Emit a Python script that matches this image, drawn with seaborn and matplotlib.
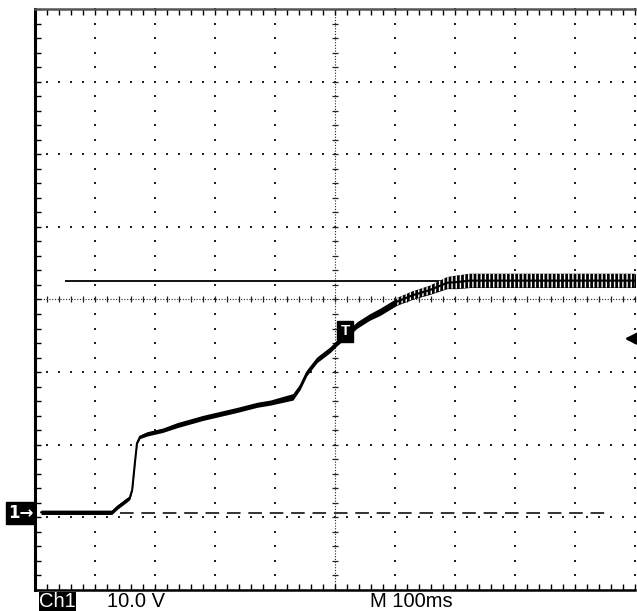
import numpy as np
import pandas as pd
import matplotlib
matplotlib.use("Agg")
import matplotlib.pyplot as plt
import matplotlib.transforms as mtransforms
from matplotlib.patches import Rectangle
import seaborn as sns

# ---- data (time in ms relative to trigger, volts) ----
time_ms = [-490, -440, -400, -372, -363, -347, -342, -338, -333, -330, -325, -313,
           -287, -263, -220, -163, -130, -108, -70, -58, -47, -30, -8, 3, 37, 58,
           75, 103, 130, 158, 187, 203, 225, 300, 400, 503]
volts = [0.1, 0.1, 0.1, 0.1, 0.8, 1.8, 2.1, 3.2, 7.3, 9.6, 10.5, 10.9,
         11.4, 12.1, 13.1, 14.2, 14.9, 15.2, 16.0, 17.4, 19.3, 21.1, 22.5, 23.4, 25.9, 27.0,
         27.7, 29.1, 30.0, 30.7, 31.7, 31.8, 32.0, 32.0, 32.0, 32.0]
noise_v = [0.3, 0.3, 0.3, 0.3, 0.3, 0.3, 0.25, 0.15, 0.1, 0.1, 0.25, 0.3,
           0.3, 0.35, 0.35, 0.35, 0.35, 0.35, 0.45, 0.4, 0.4, 0.4, 0.4, 0.4, 0.45, 0.45,
           0.5, 0.5, 0.55, 0.6, 0.8, 0.9, 0.95, 0.95, 0.95, 0.95]
ripple_from_ms = 100        # ripple visible on the trace from here on

ref_level_v = 32.0          # solid horizontal reference line
ref_start_ms = -450
trig_level_v = 24.0         # trigger level arrow on the right
trig_marker = (17, 25.0)    # "T" marker
ground_dash = (-358, 458)   # ground dashed line extent

volts_per_div = 10.0
ms_per_div = 100.0
ground_div = 2.94           # ground is 2.94 div below centre
center_v = ground_div * volts_per_div

ch_label = "Ch1"
scale_label = "10.0 V"
time_label = "M 100ms"

df = pd.DataFrame({"t": time_ms, "v": volts, "n": noise_v})

sns.set_style("white")
plt.rcParams["font.family"] = ["Liberation Sans", "DejaVu Sans"]
plt.rcParams["hatch.linewidth"] = 1.0

W, H = 637, 611
fig = plt.figure(figsize=(W / 100, H / 100), dpi=100)
ax = fig.add_axes([35 / W, 21 / H, 600 / W, 581 / H])
ylo = center_v - 4 * volts_per_div
yhi = center_v + 4 * volts_per_div
ax.set_xlim(-5 * ms_per_div, 5 * ms_per_div)
ax.set_ylim(ylo, yhi)

# ---- graticule ----
dot_c = "#222222"
vgrid = np.arange(-4, 6) * ms_per_div
hgrid = center_v + np.arange(-3, 4) * volts_per_div
ydots = center_v + np.arange(-20, 21) * volts_per_div / 5
xdots = np.arange(-25, 26) * ms_per_div / 5
for xv in vgrid:
    if xv == 0:
        continue
    ax.scatter(np.full(len(ydots), xv), ydots, s=1.6, marker="s", color=dot_c,
               linewidths=0, clip_on=False, zorder=1)
for yv in hgrid:
    if abs(yv - center_v) < 1e-6:
        continue
    ax.scatter(xdots, np.full(len(xdots), yv), s=1.6, marker="s", color=dot_c,
               linewidths=0, clip_on=False, zorder=1)
# centre crosshair with minor tick marks
ax.axvline(0, color=dot_c, lw=0.8, ls=(0, (1, 1.5)), zorder=1)
ax.axhline(center_v, color=dot_c, lw=0.8, ls=(0, (1, 1.5)), zorder=1)
ax.scatter(np.zeros(len(ydots)), ydots, s=14, marker="_", color=dot_c,
           linewidths=0.9, zorder=1)
ax.scatter(xdots, np.full(len(xdots), center_v), s=14, marker="|", color=dot_c,
           linewidths=0.9, zorder=1, clip_on=False)

# ---- reference lines ----
ax.hlines(ref_level_v, ref_start_ms, 5 * ms_per_div, color="black", lw=1.3, zorder=2,
          clip_on=False)
ax.hlines(0.0, ground_dash[0], ground_dash[1], color="#333333", lw=1.4,
          linestyles=(0, (7, 4)), zorder=2)

# ---- trace ----
tv = np.array(time_ms, float)
vv = np.array(volts, float)
nv = np.array(noise_v, float)
ax.fill_between(tv, vv - nv, vv + nv, color="black", lw=0, zorder=3)
ax.fill_between(tv, vv - nv, vv + nv, where=tv >= ripple_from_ms, interpolate=True,
                facecolor="black", edgecolor="white", hatch="||||", lw=0, zorder=3.5)
sns.lineplot(data=df, x="t", y="v", ax=ax, color="black", lw=1.5, estimator=None,
             sort=False, zorder=4)

# trigger marker "T"
ax.text(trig_marker[0], trig_marker[1], "T", ha="center", va="center", color="white",
        fontsize=11, fontweight="bold", zorder=6,
        bbox=dict(boxstyle="square,pad=0.22", facecolor="black", edgecolor="black"))
# trigger level arrow at right edge
ax.annotate("", xy=(478, trig_level_v), xytext=(505, trig_level_v),
            arrowprops=dict(arrowstyle="-|>", color="black", lw=2.0, mutation_scale=18),
            annotation_clip=False, zorder=6)

# ---- frame and ticks ----
ax.set_xticks(vgrid[:-1], minor=False)
ax.set_xticks(xdots, minor=True)
ax.set_yticks(hgrid)
ax.set_yticks(ydots, minor=True)
ax.tick_params(which="both", direction="in", top=True, bottom=True, left=True,
               right=False, labelbottom=False, labelleft=False, length=4, width=1,
               color="black")
ax.set_xlabel("")
ax.set_ylabel("")
ax.spines["right"].set_visible(False)
ax.spines["left"].set_linewidth(2.2)
ax.spines["left"].set_color("black")
ax.spines["top"].set_linewidth(1.8)
ax.spines["top"].set_color("#555555")
ax.spines["bottom"].set_linewidth(1.8)
ax.spines["bottom"].set_color("black")
ax.set_facecolor("white")

# ---- channel marker "1→" on the left ----
trans = mtransforms.blended_transform_factory(fig.transFigure, ax.transData)
ax.text(20.5 / W, 0.0, "1→", transform=trans, ha="center", va="center", color="white",
        fontsize=12, fontweight="bold", zorder=7, clip_on=False,
        family=["DejaVu Sans"],
        bbox=dict(boxstyle="square,pad=0.1", facecolor="black", edgecolor="black"))

# ---- bottom status line ----
fig.patches.append(Rectangle((39 / W, 0), 37 / W, 19 / H, transform=fig.transFigure,
                             facecolor="black", edgecolor="none"))
fig.text(57.5 / W, 9.5 / H, ch_label, ha="center", va="center", color="white",
         fontsize=14.5)
fig.text(107 / W, 9.5 / H, scale_label, ha="left", va="center", color="black",
         fontsize=14.5)
fig.text(370 / W, 9.5 / H, time_label, ha="left", va="center", color="black",
         fontsize=14.5)

fig.savefig("out.png", dpi=100)
